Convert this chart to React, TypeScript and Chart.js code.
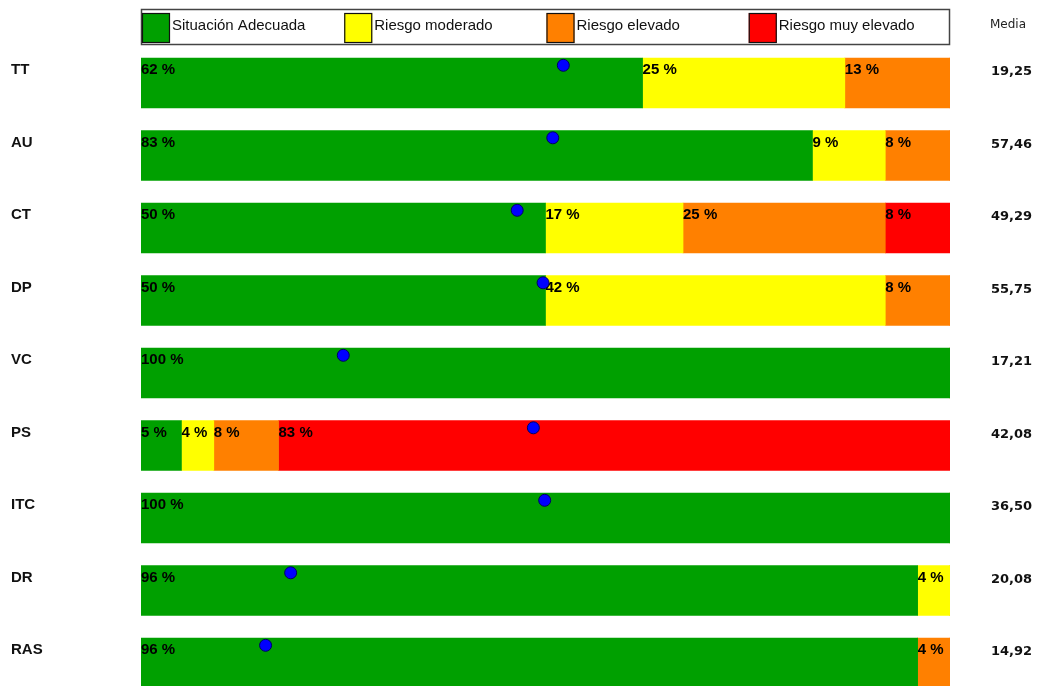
import React, { useEffect, useRef } from "react";
import { Chart, registerables } from "chart.js";

Chart.register(...registerables);

// Dimensiones evaluadas
const categorias = ["TT", "AU", "CT", "DP", "VC", "PS", "ITC", "DR", "RAS"];

// Porcentaje de casos en cada nivel de riesgo
const adecuada = [62, 83, 50, 50, 100, 5, 100, 96, 96];
const moderado = [25, 9, 17, 42, 0, 4, 0, 4, 0];
const elevado = [13, 8, 25, 8, 0, 8, 0, 0, 4];
const muyElevado = [0, 0, 8, 0, 0, 83, 0, 0, 0];

// Puntuación marcada con el punto azul (escala 0-100)
const marcador = [52.2, 50.9, 46.5, 49.7, 25.0, 48.5, 49.9, 18.5, 15.4];

// Media de cada dimensión
const medias = [19.25, 57.46, 49.29, 55.75, 17.21, 42.08, 36.5, 20.08, 14.92];

const nombresNiveles = ["Situación Adecuada", "Riesgo moderado", "Riesgo elevado", "Riesgo muy elevado"];
const coloresNiveles = ["#00a000", "#ffff00", "#ff8000", "#ff0000"];
const seriesNiveles = [adecuada, moderado, elevado, muyElevado];

const ANCHO = 1037;
const ALTO = 700;
const GROSOR_BARRA = 50;
const FUENTE = "'Liberation Sans', Arial, sans-serif";
const FUENTE_MEDIA = "'DejaVu Sans', Verdana, sans-serif";

const formatoMedia = (v: number) => v.toFixed(2).replace(".", ",");

// Etiquetas de porcentaje al comienzo de cada tramo (bajo los puntos)
const etiquetasTramos = {
  id: "etiquetasTramos",
  beforeDatasetDraw(chart: any, args: any) {
    if (args.index !== seriesNiveles.length) return;
    const ctx = chart.ctx;
    ctx.save();
    ctx.font = `bold 15px ${FUENTE}`;
    ctx.fillStyle = "#000";
    ctx.textAlign = "left";
    ctx.textBaseline = "alphabetic";
    seriesNiveles.forEach((serie, d) => {
      const meta = chart.getDatasetMeta(d);
      serie.forEach((v, i) => {
        if (!v) return;
        const bar = meta.data[i];
        const inicio = Math.min(bar.x, bar.base);
        const arriba = bar.y - GROSOR_BARRA / 2;
        ctx.fillText(`${v} %`, inicio, arriba + 16);
      });
    });
    ctx.restore();
  },
};

// Leyenda, nombres de dimensiones y columna de medias
const marco = {
  id: "marco",
  afterDraw(chart: any) {
    const ctx = chart.ctx;
    const area = chart.chartArea;
    const yScale = chart.scales.y;
    ctx.save();

    // Leyenda superior
    const ancho = area.right - area.left;
    ctx.strokeStyle = "#444";
    ctx.lineWidth = 1.5;
    ctx.strokeRect(area.left + 0.5, 9.5, ancho - 1, 35);
    nombresNiveles.forEach((nombre, k) => {
      const x0 = area.left + 1 + (k * ancho) / 4;
      ctx.fillStyle = coloresNiveles[k];
      ctx.fillRect(x0, 13, 28, 30);
      ctx.strokeStyle = "#111";
      ctx.lineWidth = 1.2;
      ctx.strokeRect(x0 + 0.5, 13.5, 27, 29);
      ctx.fillStyle = "#111";
      ctx.font = `15px ${FUENTE}`;
      ctx.textAlign = "left";
      ctx.fillText(nombre, x0 + 30, 30);
    });

    // Encabezado de la columna de medias
    ctx.font = `12px ${FUENTE_MEDIA}`;
    ctx.fillStyle = "#222";
    ctx.fillText("Media", 990, 28);

    categorias.forEach((cat, i) => {
      const arriba = yScale.getPixelForValue(i) - GROSOR_BARRA / 2;
      ctx.font = `bold 15px ${FUENTE}`;
      ctx.fillStyle = "#111";
      ctx.fillText(cat, 11, arriba + 16);
      ctx.font = `bold 13px ${FUENTE_MEDIA}`;
      ctx.fillText(formatoMedia(medias[i]), 991, arriba + 17);
    });
    ctx.restore();
  },
};

export default function App() {
  const canvasRef = useRef<HTMLCanvasElement | null>(null);

  useEffect(() => {
    if (!canvasRef.current) return;
    const datasets: any[] = seriesNiveles.map((serie, d) => ({
      type: "bar",
      label: nombresNiveles[d],
      data: serie.map((v, i) => ({ x: v, y: i })),
      backgroundColor: coloresNiveles[d],
      borderWidth: 0,
      barThickness: GROSOR_BARRA,
      indexAxis: "y",
      xAxisID: "x",
      yAxisID: "y",
      stack: "niveles",
    }));
    datasets.push({
      type: "scatter",
      label: "Puntuación",
      data: marcador.map((v, i) => ({ x: v, y: i - 0.244 })),
      xAxisID: "x",
      yAxisID: "y",
      stack: "puntos",
      order: -1,
      pointRadius: 6,
      pointBackgroundColor: "#0000ff",
      pointBorderColor: "#000060",
      pointBorderWidth: 1,
    });

    const chart = new Chart(canvasRef.current, {
      type: "bar",
      data: { datasets },
      options: {
        animation: false,
        responsive: false,
        layout: { autoPadding: false, padding: { left: 141, right: 87, top: 46.75, bottom: 0.75 } },
        plugins: { legend: { display: false }, tooltip: { enabled: false } },
        scales: {
          x: { type: "linear", stacked: true, offset: false, min: 0, max: 100, display: false },
          y: { type: "linear", reverse: true, offset: false, min: -0.5, max: 8.5, display: false },
        },
      } as any,
      plugins: [etiquetasTramos, marco],
    });
    return () => chart.destroy();
  }, []);

  return (
    <div style={{ position: "fixed", left: 0, top: 0, width: ANCHO, height: 686, overflow: "hidden", background: "#fff" }}>
      <canvas ref={canvasRef} width={ANCHO} height={ALTO} style={{ width: ANCHO, height: ALTO, display: "block" }} />
    </div>
  );
}
